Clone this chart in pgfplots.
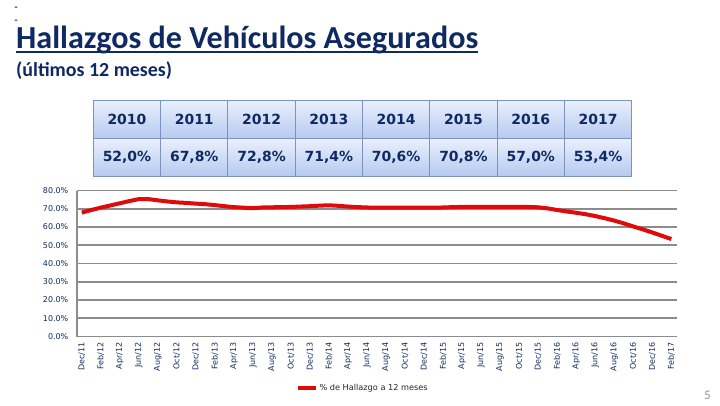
\documentclass[border=0pt]{standalone}
\usepackage{fontspec}
\setmainfont{Carlito}
\newfontfamily\dv{DejaVu Sans}
\usepackage{pgfplots}
\pgfplotsset{compat=1.18}
\definecolor{navy}{HTML}{0F2A62}
\definecolor{lred}{HTML}{E00A0A}
\definecolor{gridg}{HTML}{8C8C8C}
\definecolor{tbord}{HTML}{7C93BF}
\definecolor{ttop}{HTML}{EAF0FC}
\definecolor{tbot}{HTML}{B6CAF0}
\begin{document}
\begin{tikzpicture}[x=1bp,y=1bp]
\fill[white] (0,0) rectangle (720,405);
% small dashes top-left
\node[anchor=base west, inner sep=0pt, text=navy, font=\bfseries\fontsize{10}{10}\selectfont] at (14.5,394) {-};
\node[anchor=base west, inner sep=0pt, text=navy, font=\bfseries\fontsize{10}{10}\selectfont] at (14.5,382) {-};
% title
\node[anchor=base west, inner sep=0pt, text=navy, font=\bfseries\fontsize{32.2}{32.2}\selectfont] (t) at (16,357) {Hallazgos de Vehículos Asegurados};
\draw[navy, line width=2.2bp] ([yshift=-4bp]t.base west) -- ([yshift=-4bp]t.base east);
% subtitle
\node[anchor=base west, inner sep=0pt, text=navy, font=\bfseries\fontsize{20}{20}\selectfont] at (16,329) {(últimos 12 meses)};
% table
\foreach \i/\yr/\v in {0/2010/{52,0\%},1/2011/{67,8\%},2/2012/{72,8\%},3/2013/{71,4\%},4/2014/{70,6\%},5/2015/{70,8\%},6/2016/{57,0\%},7/2017/{53,4\%}}{
  \shade[top color=ttop, bottom color=tbot] (93.3+67.3*\i,305) rectangle (93.3+67.3*\i+67.3,266.7);
  \shade[top color=ttop, bottom color=tbot] (93.3+67.3*\i,266.7) rectangle (93.3+67.3*\i+67.3,229);
  \node[text=navy, font=\dv\bfseries\fontsize{14}{14}\selectfont] at (93.3+67.3*\i+33.65,285.8) {\yr};
  \node[text=navy, font=\dv\bfseries\fontsize{14}{14}\selectfont] at (93.3+67.3*\i+33.65,247.8) {\v};
}
\foreach \i in {0,...,8}{\draw[tbord, line width=0.9bp] (93.3+67.3*\i,305) -- (93.3+67.3*\i,229);}
\draw[tbord, line width=0.9bp] (93.3,305) -- (631.7,305);
\draw[tbord, line width=0.9bp] (93.3,266.7) -- (631.7,266.7);
\draw[tbord, line width=0.9bp] (93.3,229) -- (631.7,229);
% page number
\node[anchor=base, inner sep=0pt, text=gray!85, font=\fontsize{13}{13}\selectfont] at (707.5,6) {5};
\begin{axis}[
  at={(77bp,68.5bp)}, anchor=south west, scale only axis,
  width=600bp, height=146bp,
  xmin=-0.5, xmax=62.6, ymin=0, ymax=80,
  axis x line*=bottom, axis y line*=left,
  axis line style={gridg, line width=1.8bp, -},
  ytick={0,10,...,80}, ymajorgrids,
  grid style={gridg, line width=1.6bp},
  major tick length=0pt,
  /pgf/number format/assume math mode=true,
  yticklabel={\pgfmathprintnumber[fixed,fixed zerofill,precision=1]{\tick}\%},
  yticklabel style={font=\dv\fontsize{8}{8}\selectfont, text=navy, anchor=east, inner xsep=8.5bp, inner ysep=0pt},
  xtick={0,2,...,62},
  xticklabels={Dec/11,Feb/12,Apr/12,Jun/12,Aug/12,Oct/12,Dec/12,Feb/13,Apr/13,Jun/13,Aug/13,Oct/13,Dec/13,Feb/14,Apr/14,Jun/14,Aug/14,Oct/14,Dec/14,Feb/15,Apr/15,Jun/15,Aug/15,Oct/15,Dec/15,Feb/16,Apr/16,Jun/16,Aug/16,Oct/16,Dec/16,Feb/17},
  xticklabel style={font=\dv\fontsize{8}{8}\selectfont, text=navy, rotate=90, anchor=east, inner xsep=6bp, inner ysep=0pt},
  legend style={at={(0.476,-0.356)}, anchor=center, draw=none, fill=none, font=\dv\fontsize{8.2}{8.2}\selectfont, text=black!85, inner sep=0pt},
  legend image code/.code={\draw[#1] (0bp,0bp) -- (18bp,0bp);},
  clip=false,
]
\addplot[lred, line width=4bp, line join=round, mark=none] coordinates {
(0,67.9)(1,69.3)(2,70.6)(3,71.8)(4,73.0)(5,74.2)(6,75.3)(7,75.3)(8,74.6)(9,74.0)
(10,73.5)(11,73.2)(12,72.8)(13,72.5)(14,72.0)(15,71.4)(16,70.9)(17,70.6)(18,70.3)(19,70.7)
(20,70.8)(21,70.9)(22,71.0)(23,71.2)(24,71.4)(25,71.7)(26,71.9)(27,71.6)(28,71.2)(29,70.9)
(30,70.7)(31,70.6)(32,70.6)(33,70.6)(34,70.6)(35,70.6)(36,70.6)(37,70.6)(38,70.7)(39,70.9)
(40,71.0)(41,71.0)(42,71.0)(43,71.0)(44,71.0)(45,71.0)(46,71.0)(47,71.0)(48,70.8)(49,70.2)
(50,69.3)(51,68.5)(52,67.8)(53,67.0)(54,66.0)(55,64.8)(56,63.5)(57,62.0)(58,60.3)(59,58.7)
(60,57.0)(61,55.2)(62,53.4)
};
\addlegendentry{\% de Hallazgo a 12 meses}
\end{axis}
\end{tikzpicture}
\end{document}
